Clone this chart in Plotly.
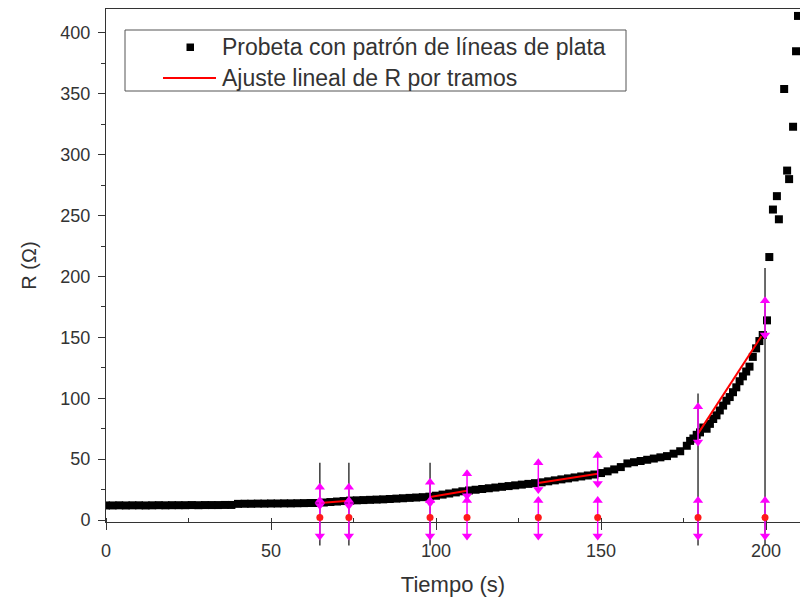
import plotly.graph_objects as go

# ---- measured resistance of the specimen (time in s, R in ohm) ----
tiempo = [0, 2, 4, 6, 8, 10, 12, 14, 16, 18, 20, 22, 24, 26, 28, 30, 32, 34, 36, 38,
          40, 42, 44, 46, 48, 50, 52, 54, 56, 58, 60, 62,
          64, 66, 68, 70, 72,
          74, 76, 78, 80, 82, 84, 86, 88, 90, 92, 94, 96,
          98, 100, 102, 104, 106, 108,
          110, 112, 114, 116, 118, 120, 122, 124, 126, 128, 130,
          132, 134, 136, 138, 140, 142, 144, 146, 148,
          150, 152, 154, 156,
          158, 160, 162, 164, 166, 168, 170,
          172, 174, 176, 177,
          178, 179, 180, 181, 182, 183, 184, 185, 186, 187, 188, 189, 190,
          191, 192, 193, 194, 195, 196, 197, 198, 199, 200.3,
          201.0, 202.1, 203.3, 203.9, 205.5, 206.4, 207.0, 208.2, 209.1, 209.7]
resistencia = [12.0, 12.0, 12.1, 12.0, 12.1, 12.1, 12.0, 12.1, 12.2, 12.1,
               12.2, 12.2, 12.2, 12.3, 12.2, 12.3, 12.3, 12.3, 12.4, 12.4,
               13.3, 13.4, 13.4, 13.5, 13.5, 13.6, 13.6, 13.7, 13.7, 13.8, 13.9, 14.0,
               14.0, 14.4, 14.8, 15.2, 15.6,
               16.0, 16.2, 16.4, 16.6, 16.8, 17.0, 17.3, 17.6, 17.9, 18.2, 18.5, 18.8,
               19.2, 20.0, 20.9, 21.8, 22.7, 23.6,
               24.3, 24.9, 25.5, 26.1, 26.7, 27.3, 27.9, 28.5, 29.1, 29.7, 30.3,
               31.0, 31.8, 32.6, 33.4, 34.2, 35.0, 35.8, 36.6, 37.4,
               38.6, 40.0, 41.6, 43.5,
               46.5, 47.5, 48.5, 49.5, 50.5, 51.5, 52.5,
               54.5, 56.5, 61.0, 65.0,
               67, 70, 72, 76, 75, 79, 83, 86, 90, 94, 98, 101, 105,
               109, 114, 118, 122, 126, 134, 141, 147, 152, 164,
               216, 255, 266, 247, 354, 287, 280, 323, 385, 414]

# ---- piecewise linear fit of R (start/end of each stretch) ----
tramo_t = [[64.8, 73.6], [98.2, 109.4], [131.0, 149.0], [179.4, 198.6]]
tramo_r = [[14.0, 15.9], [19.0, 24.0], [30.5, 38.0], [71.0, 151.0]]

# ---- stretch limits and their markers ----
limite_t = [64.8, 73.6, 98.2, 109.4, 131.0, 149.0, 179.4, 199.7]
guia_sup = [47, 47, 47, None, None, None, 104, 207]   # black guide tops
guia_inf = -21                                          # black guide bottom
flecha_sup = [27, 27, 31, 38, 47, 53, 93, 180]          # upper arrow, head
flecha_sup_fin = [12, 12, 14, 20, 25, 30, 64, 152]      # upper arrow, tail
flecha_inf = 16                                         # lower arrow, head
flecha_inf_fin = -13                                    # lower arrow, tail
punto_base = 2                                          # red base dot

x_ticks = [0, 50, 100, 150, 200]
y_ticks = [0, 50, 100, 150, 200, 250, 300, 350, 400]
x_range = [0, 210.3]
y_range = [-1.6, 419.7]

FONT = "Liberation Sans, Arial, sans-serif"
TXT = "#333333"
MAGENTA = "#ff00ff"
GUIDE = "#3a3a3a"

W, H = 800, 604
ML, MR, MT, MB = 106, 0, 9, 50      # outer plotting box (includes strip under the axis)
AXIS_PX = 522                        # pixel row of the time axis
PLOT_H = H - MT - MB
strip = (H - MB - AXIS_PX) / PLOT_H  # fraction of the box below the time axis

# second vertical axis with the same scale, reaching below the time axis
scale = (y_range[1] - y_range[0]) / (1 - strip)
y2_range = [y_range[1] - scale, y_range[1]]


def px_x(px):
    return (px - ML) / (W - ML - MR)


def px_y(py):
    return (H - MB - py) / PLOT_H


fig = go.Figure()

# data points
fig.add_trace(go.Scatter(
    x=tiempo, y=resistencia, mode="markers",
    marker=dict(symbol="square", size=8, color="black", line=dict(width=0)),
    showlegend=False, hoverinfo="x+y"))

# red piecewise fit
fx, fy = [], []
for ts, rs in zip(tramo_t, tramo_r):
    fx += ts + [None]
    fy += rs + [None]
fig.add_trace(go.Scatter(
    x=fx, y=fy, mode="lines", line=dict(color="#ff0000", width=2),
    showlegend=False, hoverinfo="skip"))

# black guides at the stretch limits (drawn on the extended axis)
gx, gy = [], []
for t, g in zip(limite_t, guia_sup):
    if g is not None:
        gx += [t, t, None]
        gy += [guia_inf, g, None]
fig.add_trace(go.Scatter(
    x=gx, y=gy, yaxis="y2", mode="lines",
    line=dict(color=GUIDE, width=1.5),
    showlegend=False, hoverinfo="skip"))

# magenta double arrows: upper and lower
pares = [(flecha_sup, flecha_sup_fin),
         ([flecha_inf] * len(limite_t), [flecha_inf_fin] * len(limite_t))]
for heads, tails in pares:
    ax, ay = [], []
    for t, h, e in zip(limite_t, heads, tails):
        ax += [t, t, None]
        ay += [e, h, None]
    fig.add_trace(go.Scatter(
        x=ax, y=ay, yaxis="y2", mode="lines",
        line=dict(color=MAGENTA, width=1.5),
        showlegend=False, hoverinfo="skip"))
    fig.add_trace(go.Scatter(
        x=limite_t, y=heads, yaxis="y2", mode="markers",
        marker=dict(symbol="triangle-up", size=9, color=MAGENTA),
        showlegend=False, hoverinfo="skip"))
    fig.add_trace(go.Scatter(
        x=limite_t, y=tails, yaxis="y2", mode="markers",
        marker=dict(symbol="triangle-down", size=9, color=MAGENTA),
        showlegend=False, hoverinfo="skip"))

# red base dots
fig.add_trace(go.Scatter(
    x=limite_t, y=[punto_base] * len(limite_t), yaxis="y2", mode="markers",
    marker=dict(symbol="circle", size=7, color="#ff1a1a"),
    showlegend=False, hoverinfo="skip"))

# legend box drawn in paper space
shapes = [
    dict(type="rect", xref="paper", yref="paper",
         x0=px_x(125), x1=px_x(626), y0=px_y(91), y1=px_y(30),
         line=dict(color="#555555", width=1), fillcolor="white", layer="above"),
    dict(type="rect", xref="paper", yref="paper",
         x0=px_x(186.5), x1=px_x(194), y0=px_y(51), y1=px_y(43.5),
         line=dict(width=0), fillcolor="black", layer="above"),
    dict(type="line", xref="paper", yref="paper",
         x0=px_x(163), x1=px_x(216), y0=px_y(78), y1=px_y(78),
         line=dict(color="#ff0000", width=2), layer="above"),
]
annotations = [
    dict(xref="paper", yref="paper", x=px_x(220), y=px_y(47),
         text="Probeta con patrón de líneas de plata", showarrow=False,
         xanchor="left", yanchor="middle", font=dict(family=FONT, size=23, color=TXT)),
    dict(xref="paper", yref="paper", x=px_x(220), y=px_y(78),
         text="Ajuste lineal de R por tramos", showarrow=False,
         xanchor="left", yanchor="middle", font=dict(family=FONT, size=23, color=TXT)),
]

fig.update_layout(
    width=W, height=H,
    margin=dict(l=ML, r=MR, t=MT, b=MB, pad=0),
    paper_bgcolor="white", plot_bgcolor="rgba(0,0,0,0)",
    font=dict(family=FONT, color=TXT),
    shapes=shapes, annotations=annotations,
    xaxis=dict(
        range=x_range, tickvals=x_ticks, ticktext=[str(v) for v in x_ticks],
        anchor="y",
        ticks="outside", ticklen=7, tickwidth=1, tickcolor="#333",
        ticklabelstandoff=5,
        minor=dict(dtick=25, tick0=0, ticks="inside", ticklen=4, tickcolor="#333"),
        showline=True, linecolor="#333", linewidth=1, mirror=True,
        showgrid=False, zeroline=False,
        tickfont=dict(family=FONT, size=18, color=TXT),
        title=dict(text="Tiempo (s)", font=dict(family=FONT, size=22, color=TXT), standoff=17),
    ),
    yaxis=dict(
        domain=[strip, 1], anchor="x",
        range=y_range, tickvals=y_ticks, ticktext=[str(v) for v in y_ticks],
        ticks="outside", ticklen=7, tickwidth=1, tickcolor="#333",
        ticklabelstandoff=4,
        minor=dict(dtick=25, tick0=0, ticks="outside", ticklen=4, tickcolor="#333"),
        showline=True, linecolor="#333", linewidth=1, mirror=False,
        showgrid=False, zeroline=False,
        tickfont=dict(family=FONT, size=18, color=TXT),
        title=dict(text="R (Ω)", font=dict(family=FONT, size=20, color=TXT), standoff=18),
    ),
    yaxis2=dict(
        domain=[0, 1], anchor="x", range=y2_range, visible=False,
        showgrid=False, zeroline=False,
    ),
)

fig.write_html("out.html")
